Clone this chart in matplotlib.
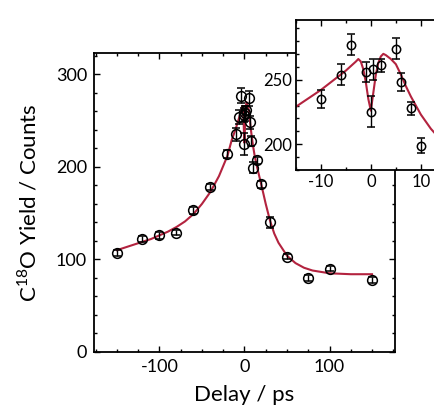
import numpy as np
import matplotlib
matplotlib.use("Agg")
import matplotlib.pyplot as plt
from matplotlib.ticker import MultipleLocator

plt.rcParams['font.family'] = ['Lato', 'DejaVu Sans']
plt.rcParams['axes.unicode_minus'] = False
plt.rcParams['mathtext.fontset'] = 'custom'
plt.rcParams['mathtext.rm'] = 'Lato'

# measured C18O yield vs pump-probe delay
delay = [-150, -120, -100, -80, -60, -40, -20, -10, -6, -4, -1, 0, 0.5, 2,
         5, 6, 8, 10, 15, 20, 30, 50, 75, 100, 150]
counts = [107, 122, 126, 129, 153, 178, 214, 235, 254, 277, 256, 225, 258, 261,
          274, 248, 228, 199, 207, 181, 140, 103, 80, 90, 78]
errors = [3, 3, 4, 3, 4, 3, 4, 7, 8, 8, 8, 12, 8, 5,
          8, 7, 5, 6, 4, 4, 6, 3, 3, 3, 3]

# fitted curve, sampled
fit_t = [-150, -140, -130, -120, -110, -100, -90, -80, -70, -60, -50, -40, -30,
         -20, -15, -10, -7, -5, -3, -2.5, -2, -1.5, -1, -0.5, 0, 0.5, 1, 1.5,
         2, 2.5, 3, 4, 5, 6, 7, 8, 10, 12, 15, 20, 25, 30, 35, 40, 50, 60, 70,
         80, 100, 125, 150]
fit_y = [110, 113, 116, 119, 122, 126, 130, 135, 141, 149, 160, 173, 190,
         212, 229, 242, 251, 257, 264, 266, 264, 258, 248, 235, 226, 240, 254, 263,
         268, 270, 269, 266, 262, 254, 245, 237, 223, 212, 199, 180, 160, 142, 128, 118, 104, 96, 91,
         88, 85, 84, 84]

fit_color = '#b3233f'

fig = plt.figure(figsize=(4.35, 4.05), dpi=100)
ax = fig.add_axes([0.216, 0.131, 0.692, 0.738])


def draw(a, ms):
    a.plot(fit_t, fit_y, color=fit_color, lw=1.5, zorder=2)
    a.errorbar(delay, counts, yerr=errors, fmt='o', mfc='none', mec='black',
               mew=1.1, ms=ms, ecolor='black', elinewidth=1.0, capsize=3,
               capthick=1.0, zorder=3)
    a.tick_params(which='both', direction='in', top=True, right=True,
                  width=1.0)
    a.tick_params(which='major', length=4)
    a.tick_params(which='minor', length=2.5)
    for s in a.spines.values():
        s.set_linewidth(1.3)


draw(ax, 7)
ax.set_xlim(-177, 177)
ax.set_ylim(0, 323)
ax.xaxis.set_major_locator(MultipleLocator(100))
ax.xaxis.set_minor_locator(MultipleLocator(25))
ax.yaxis.set_major_locator(MultipleLocator(100))
ax.yaxis.set_minor_locator(MultipleLocator(20))
ax.tick_params(labelsize=13, pad=5)
ax.set_xlabel('Delay / ps', fontsize=16, labelpad=7)
ax.set_ylabel('C$^{18}$O Yield / Counts', fontsize=16, labelpad=11)

ins = fig.add_axes([0.680, 0.580, 0.345, 0.370])
draw(ins, 6)
ins.set_xlim(-15, 15)
ins.set_ylim(180, 296)
ins.xaxis.set_major_locator(MultipleLocator(10))
ins.xaxis.set_minor_locator(MultipleLocator(5))
ins.yaxis.set_major_locator(MultipleLocator(50))
ins.yaxis.set_minor_locator(MultipleLocator(10))
ins.tick_params(labelsize=12, pad=3)

fig.savefig('out.png', dpi=100)
